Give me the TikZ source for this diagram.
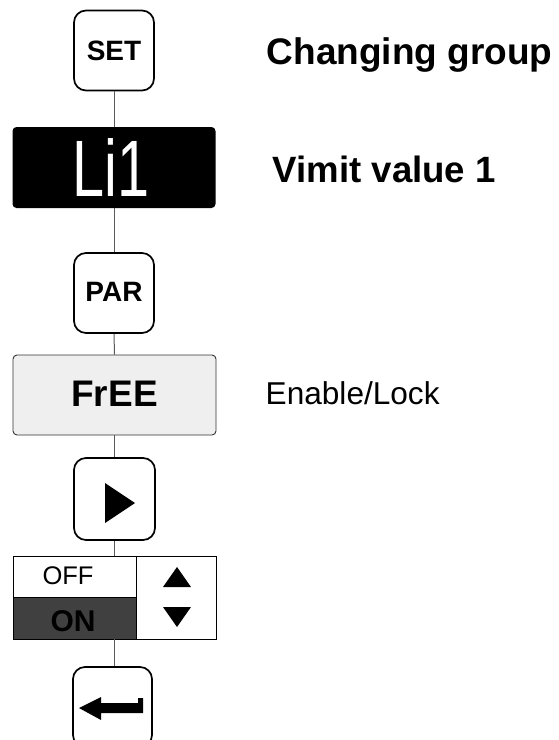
\documentclass[tikz,border=0pt]{standalone}
\usepackage{fontspec}
\setmainfont{Liberation Sans}
\definecolor{freegray}{RGB}{239,239,239}
\definecolor{ongray}{RGB}{64,64,64}
\definecolor{conngray}{RGB}{90,90,90}
\begin{document}
\begin{tikzpicture}[x=1pt,y=-1pt,
  key/.style={draw=black,line width=1.7pt,rounded corners=12pt,minimum width=80pt,minimum height=80pt,inner sep=0pt,font=\bfseries\fontsize{28}{28}\selectfont},
  wide/.style={rounded corners=4pt,minimum width=203pt,minimum height=81pt,inner sep=0pt},
  conn/.style={draw=conngray,line width=1pt},
  lbl/.style={anchor=base west,inner sep=0pt}]
\useasboundingbox (0,0) rectangle (558,740);
\clip (0,0) rectangle (558,740);
% nodes
\node[key] (set) at (114,50.5) {SET};
\node[wide,fill=black,text=white,font=\fontsize{80}{80}\selectfont] (li) at (114,167.5) {\hspace*{-6pt}\scalebox{0.72}[1]{Li1}};
\node[key] (par) at (114,293) {\raisebox{1.5pt}{PAR}};
\node[wide,draw=black!80,line width=0.9pt,fill=freegray,font=\bfseries\fontsize{37}{37}\selectfont,minimum height=80pt] (free) at (114.5,395) {\raisebox{3pt}{FrEE}};
\node[key,minimum width=81pt,minimum height=82pt] (play) at (114.5,499) {};
\node[draw=none,minimum width=203pt,minimum height=83pt,inner sep=0pt] (tog) at (114.5,597.5) {};
\node[key,minimum width=79pt] (ent) at (112.5,707) {};
% toggle contents
\fill[ongray] (13,597) rectangle (136,639);
\draw[line width=0.9pt] (13,556) rectangle (216,639);
\draw[line width=0.9pt] (136,556) -- (136,639);
\draw[line width=0.9pt] (13,597) -- (136,597);
\node[inner sep=0pt,font=\fontsize{25.5}{25.5}\selectfont] (off) at (68,576) {OFF};
\node[inner sep=0pt,font=\bfseries\fontsize{30}{30}\selectfont] (on) at (73,621) {ON};
\fill (163,587) -- (191,587) -- (177,567) -- cycle;
\fill (163,607) -- (191,607) -- (177,627) -- cycle;
% play triangle
\fill (105,483) -- (105,523) -- (135,503) -- cycle;
% enter arrow
\fill (79,708) -- (101,697) -- (101,703) -- (138,703) -- (138,698) -- (143,698) -- (143,713) -- (101,713) -- (101,720) -- cycle;
% connectors
\draw[conn] (set.south) -- (li.north);
\draw[conn] (li.south) -- (par.north);
\draw[conn] (par.south) -- (free.north);
\draw[conn] (free.south) -- (play.north);
\draw[conn] (play.south) -- (tog.north);
\draw[conn] (tog.south) -- (tog.south |- ent.north);
% labels
\node[lbl,font=\bfseries\fontsize{37}{37}\selectfont] (t1) at (266.5,64) {Changing group};
\node[lbl,font=\bfseries\fontsize{36.6}{36.6}\selectfont] (t2) at (272.5,182) {Vimit value 1};
\node[lbl,font=\fontsize{31.6}{31.6}\selectfont] (t3) at (265.5,404) {Enable/Lock};
\end{tikzpicture}
\end{document}
